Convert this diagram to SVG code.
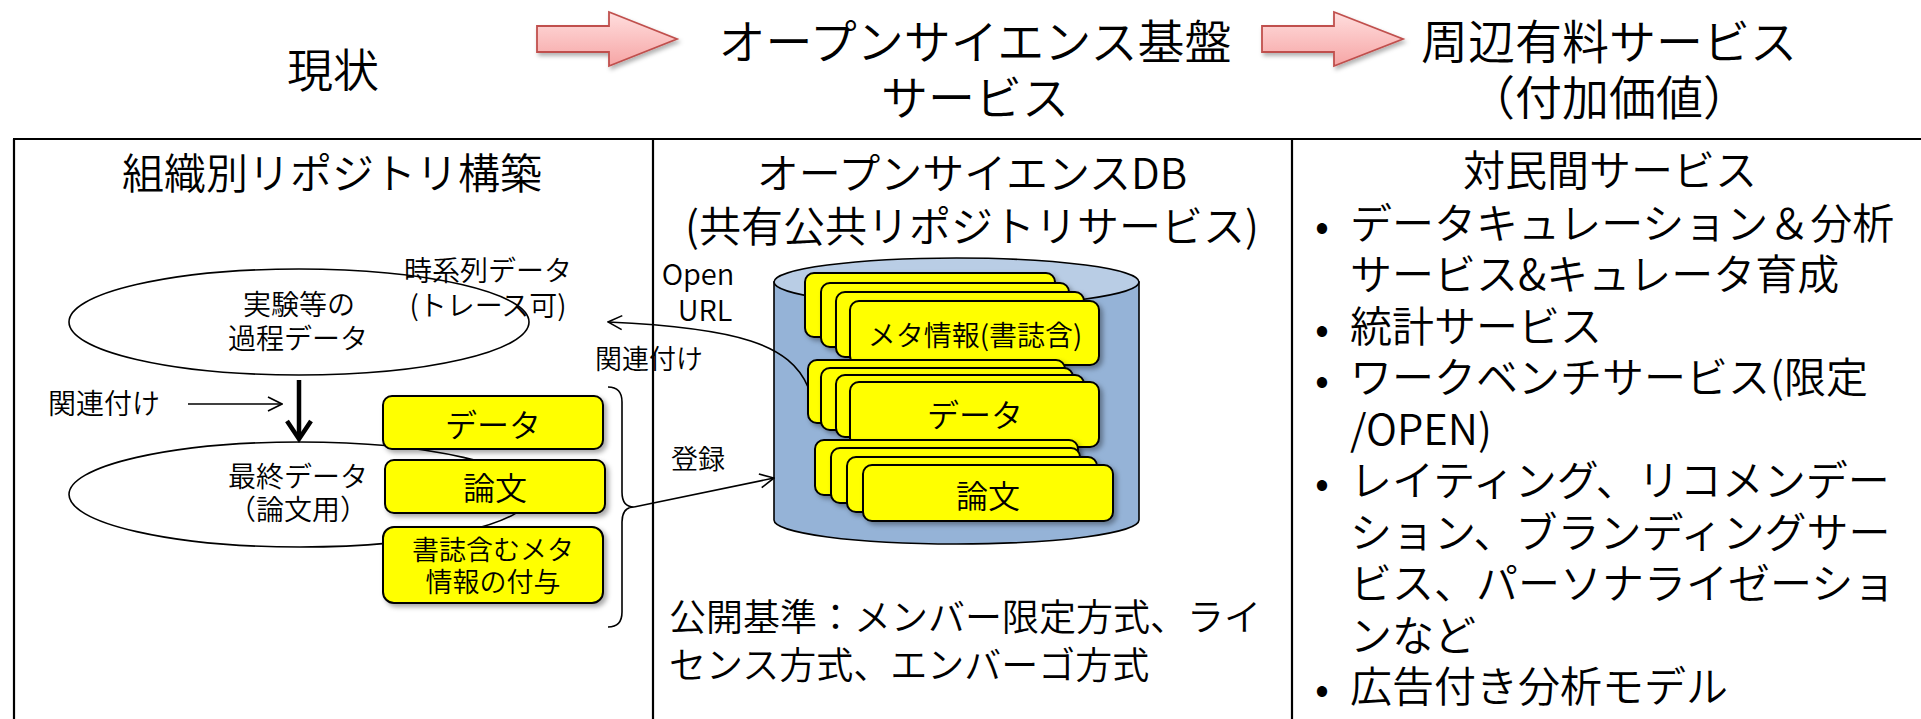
<svg xmlns="http://www.w3.org/2000/svg" width="1921" height="719" viewBox="0 0 1921 719">
<defs>
<style>
.t{font-family:"Noto Sans CJK JP","Noto Sans",sans-serif;font-weight:350;fill:#000;}
.c{text-anchor:middle;dominant-baseline:central;}
.l{dominant-baseline:central;}
.yb{fill:#ffff00;stroke:#000;stroke-width:2;filter:url(#sh);}
.ln{fill:none;stroke:#000;stroke-width:1.6;}
.pk{fill:url(#pink);stroke:#c0504d;stroke-width:1.8;filter:url(#sh2);}
</style>
<linearGradient id="pink" x1="0" y1="0" x2="0" y2="1"><stop offset="0" stop-color="#ffdede"/><stop offset="1" stop-color="#f6a5a5"/></linearGradient>
<filter id="sh" x="-10%" y="-10%" width="130%" height="140%"><feDropShadow dx="3" dy="3" stdDeviation="2.5" flood-color="#000" flood-opacity="0.35"/></filter>
<filter id="sh2" x="-10%" y="-10%" width="130%" height="140%"><feDropShadow dx="2" dy="3" stdDeviation="2" flood-color="#000" flood-opacity="0.3"/></filter>
<marker id="open" viewBox="0 0 16 16" refX="15" refY="8" markerWidth="16" markerHeight="16" markerUnits="userSpaceOnUse" orient="auto"><path d="M1,1 L15,8 L1,15" fill="none" stroke="#000" stroke-width="1.6"/></marker>
</defs>
<rect width="1921" height="719" fill="#fff"/>

<g id="header">
<text class="t c" x="333" y="67" font-size="46">現状</text>
<polygon class="pk" points="537,26 609,26 609,12 677,39 609,66 609,52 537,52"/>
<text class="t c" x="975" y="38" font-size="47">オープンサイエンス基盤</text>
<text class="t c" x="975" y="94" font-size="47">サービス</text>
<polygon class="pk" points="1262,26 1334,26 1334,12 1403,39 1334,66 1334,52 1262,52"/>
<text class="t c" x="1609" y="38" font-size="47">周辺有料サービス</text>
<text class="t c" x="1609" y="94" font-size="47">（付加価値）</text>
</g>

<g id="table" fill="none" stroke="#000" stroke-width="2.2">
<line x1="13" y1="139" x2="1921" y2="139"/>
<line x1="14" y1="139" x2="14" y2="719"/>
<line x1="653" y1="139" x2="653" y2="719"/>
<line x1="1292" y1="139" x2="1292" y2="719"/>
</g>

<g id="col1">
<text class="t c" x="332" y="170" font-size="42">組織別リポジトリ構築</text>
<g id="ellipse-process">
<ellipse cx="299" cy="322" rx="230" ry="53" fill="#fff" stroke="#000" stroke-width="1.6"/>
<text class="t c" x="299" y="303" font-size="28">実験等の</text>
<text class="t c" x="298" y="337" font-size="28">過程データ</text>
</g>
<text class="t c" x="488" y="269" font-size="28">時系列データ</text>
<text class="t c" x="488" y="304" font-size="28">(トレース可)</text>
<g id="ellipse-final">
<ellipse cx="300" cy="494.5" rx="231" ry="52.5" fill="#fff" stroke="#000" stroke-width="1.6"/>
<text class="t c" x="298" y="475" font-size="28">最終データ</text>
<text class="t c" x="298" y="508" font-size="28">（論文用）</text>
</g>
<text class="t c" x="104" y="402" font-size="28">関連付け</text>
<g id="box-data"><rect class="yb" x="383" y="396" width="220" height="53" rx="9"/><text class="t c" x="493" y="423" font-size="32">データ</text></g>
<g id="box-paper"><rect class="yb" x="385" y="460" width="220" height="53" rx="9"/><text class="t c" x="495" y="486" font-size="32">論文</text></g>
<g id="box-meta"><rect class="yb" x="383" y="527" width="220" height="76" rx="11"/><text class="t c" x="493" y="548" font-size="27">書誌含むメタ</text><text class="t c" x="493" y="580" font-size="27">情報の付与</text></g>
</g>

<g id="col2">
<text class="t c" x="972" y="170" font-size="42">オープンサイエンスDB</text>
<text class="t c" x="972" y="223" font-size="42">(共有公共リポジトリサービス)</text>
<text class="t c" x="698" y="272" font-size="29">Open</text>
<text class="t c" x="705" y="308" font-size="29">URL</text>
<text class="t c" x="649" y="357" font-size="27">関連付け</text>
<text class="t c" x="698" y="457" font-size="27">登録</text>
<g id="cylinder">
<path d="M774,282 L774,520 A182.5,24 0 0 0 1139,520 L1139,282 Z" fill="#95b3d7" stroke="#000" stroke-width="1.6"/>
<ellipse cx="956.5" cy="282" rx="182.5" ry="24" fill="#b9cde5" stroke="#000" stroke-width="1.6"/>
</g>
<g id="stack-meta">
<rect class="yb" x="805" y="273" width="250" height="64" rx="9"/>
<rect class="yb" x="821" y="283" width="248" height="64" rx="9"/>
<rect class="yb" x="836" y="292" width="248" height="65" rx="9"/>
<rect class="yb" x="850" y="301" width="249" height="64" rx="9"/>
<text class="t c" x="975" y="334" font-size="28">メタ情報(書誌含)</text>
</g>
<g id="stack-data">
<rect class="yb" x="808" y="360" width="257" height="63" rx="9"/>
<rect class="yb" x="821" y="368" width="252" height="62" rx="9"/>
<rect class="yb" x="836" y="375" width="248" height="62" rx="9"/>
<rect class="yb" x="850" y="382" width="249" height="65" rx="9"/>
<text class="t c" x="975" y="413" font-size="32">データ</text>
</g>
<g id="stack-paper">
<rect class="yb" x="815" y="440" width="263" height="55" rx="9"/>
<rect class="yb" x="831" y="448" width="249" height="55" rx="9"/>
<rect class="yb" x="847" y="457" width="250" height="55" rx="9"/>
<rect class="yb" x="863" y="465" width="250" height="56" rx="9"/>
<text class="t c" x="988" y="494" font-size="32">論文</text>
</g>
<text class="t l" x="669" y="615" font-size="37">公開基準：メンバー限定方式、ライ</text>
<text class="t l" x="669" y="663" font-size="37">センス方式、エンバーゴ方式</text>
</g>

<g id="col3">
<text class="t c" x="1610" y="167" font-size="42">対民間サービス</text>
<g font-size="42">
<text class="t c" x="1322" y="222">•</text>
<text class="t l" x="1350" y="220">データキュレーション＆分析</text>
<text class="t l" x="1350" y="271.5">サービス&amp;キュレータ育成</text>
<text class="t c" x="1322" y="325">•</text>
<text class="t l" x="1350" y="323">統計サービス</text>
<text class="t c" x="1322" y="376.5">•</text>
<text class="t l" x="1350" y="374.5">ワークベンチサービス(限定</text>
<text class="t l" x="1350" y="426">/OPEN)</text>
<text class="t c" x="1322" y="479.5">•</text>
<text class="t l" x="1350" y="477.5">レイティング、リコメンデー</text>
<text class="t l" x="1350" y="529">ション、ブランディングサー</text>
<text class="t l" x="1350" y="580.5">ビス、パーソナライゼーショ</text>
<text class="t l" x="1350" y="632">ンなど</text>
<text class="t c" x="1322" y="685.5">•</text>
<text class="t l" x="1350" y="683.5">広告付き分析モデル</text>
</g>
</g>

<g id="connectors">
<line class="ln" x1="188" y1="404" x2="282" y2="404" marker-end="url(#open)"/>
<line x1="299" y1="380" x2="299" y2="438" stroke="#000" stroke-width="4.5"/>
<path d="M287,421 L299,439 L311,421" fill="none" stroke="#000" stroke-width="4.5" stroke-linejoin="miter"/>
<path class="ln" d="M608,387 Q622,387 622,402 L622,492 Q622,507 634,507 Q622,507 622,522 L622,612 Q622,627 608,627"/>
<line class="ln" x1="634" y1="507" x2="774" y2="478" marker-end="url(#open)"/>
<path class="ln" d="M808,387 C790,345 740,328 608,322" marker-end="url(#open)"/>
</g>
</svg>
